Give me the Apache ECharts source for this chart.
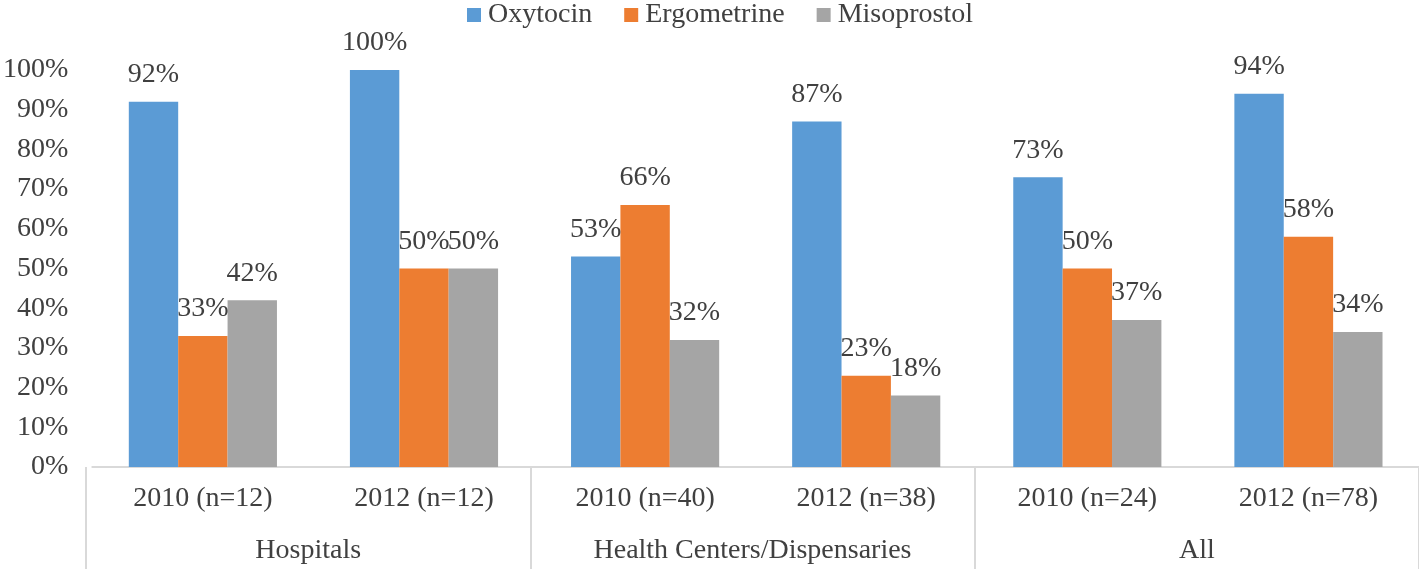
<!DOCTYPE html>
<html><head><meta charset="utf-8">
<script src="https://cdn.jsdelivr.net/npm/echarts@6/dist/echarts.min.js"></script>
<style>html,body{margin:0;padding:0;background:#fff}#c{width:1419px;height:569px}</style>
</head><body><div id="c"></div>
<script>
const categories = ['2010 (n=12)', '2012 (n=12)', '2010 (n=40)', '2012 (n=38)', '2010 (n=24)', '2012 (n=78)'];
const groups = ['Hospitals', 'Health Centers/Dispensaries', 'All'];
const oxytocin = [92, 100, 53, 87, 73, 94];
const ergometrine = [33, 50, 66, 23, 50, 58];
const misoprostol = [42, 50, 32, 18, 37, 34];
const yTicks = [0, 10, 20, 30, 40, 50, 60, 70, 80, 90, 100];

const FONT = '"Liberation Serif", "Times New Roman", serif';
const TXT = '#404040';
const FS = 28;
const grid = {left: 86, right: 0, top: 70, bottom: 102};
const lbl = {show: true, position: 'top', distance: 13, formatter: '{c}%', fontFamily: FONT, fontSize: FS, color: TXT};
function bar(name, data, color) {
  return {name, type: 'bar', data, xAxisIndex: 0, yAxisIndex: 0, barGap: '0%', barCategoryGap: '33%',
    itemStyle: {color}, label: lbl};
}
const chart = echarts.init(document.getElementById('c'));
chart.setOption({
  animation: false,
  textStyle: {fontFamily: FONT},
  legend: {left: 462, top: -4, icon: 'rect', itemWidth: 14, itemHeight: 14, itemGap: 32,
    textStyle: {fontFamily: FONT, fontSize: FS, color: TXT, padding: [0, 0, 0, 2]},
    data: ['Oxytocin', 'Ergometrine', 'Misoprostol']},
  grid: [grid, Object.assign({}, grid)],
  xAxis: [
    {type: 'category', gridIndex: 0, data: categories,
      axisLine: {lineStyle: {color: '#d9d9d9', width: 2}},
      axisTick: {show: false},
      axisLabel: {interval: 0, margin: 18, fontFamily: FONT, fontSize: FS, color: TXT}},
    {type: 'category', gridIndex: 1, data: groups, position: 'bottom',
      axisLine: {show: false},
      axisTick: {show: true, length: 102, interval: 0, lineStyle: {color: '#d9d9d9', width: 2}},
      axisLabel: {interval: 0, margin: 70, fontFamily: FONT, fontSize: FS, color: TXT}}
  ],
  yAxis: [
    {type: 'value', gridIndex: 0, min: yTicks[0], max: yTicks[yTicks.length - 1], interval: 10,
      splitLine: {show: false}, axisLine: {show: false}, axisTick: {show: false},
      axisLabel: {formatter: '{value}%', margin: 24, padding: [5, 0, 0, 0], fontFamily: FONT, fontSize: FS, color: TXT}},
    {type: 'value', gridIndex: 1, min: 0, max: 100, show: false}
  ],
  series: [
    bar('Oxytocin', oxytocin, '#5b9bd5'),
    bar('Ergometrine', ergometrine, '#ed7d31'),
    bar('Misoprostol', misoprostol, '#a5a5a5')
  ]
});
</script></body></html>
